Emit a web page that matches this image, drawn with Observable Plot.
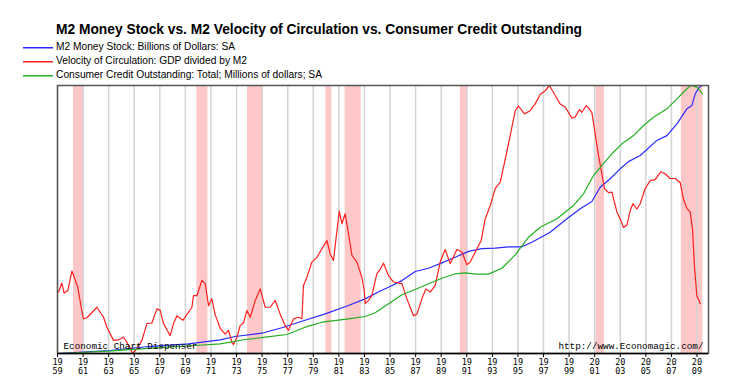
<!DOCTYPE html>
<html><head><meta charset="utf-8">
<script src="https://cdn.jsdelivr.net/npm/d3@7"></script>
<script src="https://cdn.jsdelivr.net/npm/@observablehq/plot@0.6"></script>
<style>
body{margin:0;background:#fff;}
#wrap{position:relative;width:739px;height:387px;overflow:hidden;font-family:"Liberation Sans",Arial,sans-serif;background:#fff;}
#head{position:relative;height:80px;}
.t{position:absolute;white-space:nowrap;transform-origin:0 50%;color:#000;}
#title{left:56px;top:21px;font-weight:bold;font-size:15px;line-height:16px;}
.leg{left:56px;font-size:10px;line-height:12px;}
#sw{position:absolute;left:0;top:0;}
#chart svg{display:block;}
</style></head><body>
<div id="wrap"><div id="head"></div><div id="chart"></div></div>
<script>
const titleText = "M2 Money Stock vs. M2 Velocity of Circulation vs. Consumer Credit Outstanding";
const seriesNames = ["M2 Money Stock: Billions of Dollars: SA", "Velocity of Circulation: GDP divided by M2", "Consumer Credit Outstanding: Total; Millions of dollars; SA"];
const seriesColors = ["#2a2aff", "#ff2020", "#22b022"];
const tickYears = [1959,1961,1963,1965,1967,1969,1971,1973,1975,1977,1979,1981,1983,1985,1987,1989,1991,1993,1995,1997,1999,2001,2003,2005,2007,2009];

// M2 money stock, billions of dollars
const m2Years = [1959.0,1962.34,1963.12,1966.11,1969.24,1971.72,1972.89,1974.98,1976.54,1978.11,1979.93,1981.75,1983.06,1984.23,1984.88,1985.93,1986.97,1988.01,1989.06,1990.09,1991.13,1992.18,1993.22,1994.26,1995.31,1996.09,1996.74,1997.52,1998.83,1999.87,2000.78,2001.43,2002.21,2003.00,2003.64,2004.56,2005.08,2005.86,2006.65,2007.43,2008.21,2008.60,2008.86,2009.20,2009.38];
const m2Values = [290,365,381,501,582,704,804,904,1068,1267,1490,1742,1944,2180,2293,2496,2772,2869,3031,3202,3380,3461,3477,3518,3518,3656,3793,3961,4366,4669,4889,5322,5578,5879,6097,6283,6462,6738,6883,7240,7694,7792,8149,8351,8400];

// Velocity of M2: GDP / M2
const velYears = [1959.08,1959.34,1959.52,1959.81,1960.13,1960.59,1960.85,1961.03,1961.30,1962.08,1962.60,1962.86,1963.38,1963.77,1964.16,1964.43,1964.68,1964.86,1965.21,1965.60,1965.99,1966.38,1966.77,1967.03,1967.29,1967.81,1968.07,1968.34,1968.80,1969.51,1969.63,1969.90,1970.29,1970.55,1970.81,1971.07,1971.33,1971.72,1972.11,1972.37,1972.64,1972.76,1973.03,1973.28,1973.54,1973.81,1974.07,1974.46,1974.85,1975.24,1975.63,1976.02,1976.41,1976.80,1977.06,1977.45,1977.84,1978.11,1978.23,1978.50,1978.89,1979.28,1979.67,1980.06,1980.32,1980.58,1980.85,1981.03,1981.24,1981.49,1981.75,1982.02,1982.41,1982.80,1982.98,1983.06,1983.32,1983.58,1983.97,1984.23,1984.49,1984.88,1985.27,1985.93,1986.32,1986.83,1987.10,1987.49,1987.80,1988.14,1988.53,1988.92,1989.31,1989.70,1990.23,1990.62,1991.01,1991.27,1991.66,1992.13,1992.44,1992.84,1993.23,1993.62,1994.01,1994.40,1994.79,1995.04,1995.51,1995.96,1996.35,1996.74,1997.13,1997.47,1997.91,1998.30,1998.69,1999.22,1999.48,1999.81,2000.00,2000.34,2000.78,2001.04,2001.30,2001.56,2001.77,2002.08,2002.35,2002.74,2003.00,2003.25,2003.52,2003.78,2003.99,2004.30,2004.56,2004.95,2005.34,2005.73,2006.18,2006.51,2006.90,2007.30,2007.69,2007.94,2008.21,2008.47,2008.65,2008.80,2008.99,2009.25];
const velValues = [1.797,1.814,1.795,1.800,1.837,1.806,1.768,1.746,1.748,1.768,1.749,1.730,1.705,1.706,1.711,1.701,1.691,1.680,1.689,1.705,1.737,1.738,1.765,1.762,1.737,1.714,1.737,1.752,1.743,1.768,1.790,1.790,1.819,1.813,1.771,1.784,1.754,1.728,1.717,1.724,1.701,1.697,1.711,1.733,1.738,1.762,1.749,1.781,1.803,1.768,1.768,1.781,1.755,1.733,1.724,1.746,1.749,1.746,1.809,1.825,1.854,1.863,1.879,1.895,1.870,1.857,1.914,1.951,1.927,1.946,1.908,1.867,1.854,1.825,1.800,1.775,1.781,1.790,1.832,1.840,1.852,1.828,1.816,1.813,1.784,1.752,1.755,1.784,1.803,1.797,1.809,1.854,1.878,1.851,1.878,1.873,1.849,1.854,1.873,1.895,1.936,1.962,1.994,2.006,2.050,2.095,2.142,2.151,2.136,2.142,2.155,2.173,2.180,2.190,2.171,2.155,2.149,2.128,2.130,2.144,2.139,2.152,2.139,2.098,2.057,2.022,1.994,1.986,1.987,1.949,1.936,1.920,1.924,1.952,1.965,1.955,1.965,1.994,2.009,2.011,2.026,2.022,2.013,2.013,2.005,1.974,1.956,1.949,1.917,1.847,1.790,1.775];

// Consumer credit outstanding, millions of dollars
const ccYears = [1959.0,1959.6,1962.99,1966.64,1969.77,1971.72,1973.68,1975.24,1976.94,1978.37,1979.67,1980.32,1981.75,1983.06,1983.84,1984.88,1985.93,1986.97,1988.01,1989.06,1990.09,1990.88,1991.66,1992.70,1993.75,1994.79,1995.83,1996.74,1998.05,1999.34,2000.13,2000.91,2001.56,2002.35,2003.13,2004.04,2004.82,2005.60,2006.65,2007.43,2008.21,2008.52,2008.99,2009.43];
const ccValues = [53000,55500,74700,106800,128500,144500,184900,206600,232100,301000,348100,357500,380200,401800,437000,521500,606400,656400,710000,763000,804500,813700,801000,801000,857000,983000,1149700,1243000,1323000,1448000,1559000,1731000,1826000,1936000,2030000,2108000,2203000,2281000,2360000,2454000,2549000,2580000,2564000,2502000];

// Recession bands
const recStart = [1960.25,1969.90,1973.86,1979.98,1981.49,1990.49,2001.10,2007.77];
const recEnd   = [1961.09,1970.76,1975.11,1980.45,1982.75,1991.09,2001.77,2009.46];

const leftNote = "Economic Chart Dispenser";
const rightNote = "http://www.Economagic.com/";

// ---- header (title + legend) ----
const head = document.getElementById("head");
function addText(cls, id, txt, top, targetW) {
  const d = document.createElement("div");
  d.className = "t " + cls; if (id) d.id = id;
  d.textContent = txt; d.style.top = top + "px";
  head.appendChild(d);
  const w = d.getBoundingClientRect().width;
  d.style.transform = `scaleX(${targetW / w})`;
  return d;
}
addText("", "title", titleText, 21, 526);
const legY = [47, 61, 75];
const legW = [179, 191, 266];
const sw = d3.select(head).append("svg").attr("id", "sw").attr("width", 60).attr("height", 80);
sw.selectAll("rect").data(seriesColors).join("rect")
  .attr("x", 23).attr("width", 30)
  .attr("y", (c, i) => legY[i]).attr("height", 1.5)
  .attr("fill", c => c);
seriesNames.forEach((name, i) => addText("leg", null, name, legY[i] - 6.5, legW[i]));

// ---- data table ----
const table = [
  ...m2Years.map((x, i) => ({series: seriesNames[0], year: x, value: m2Values[i]})),
  ...velYears.map((x, i) => ({series: seriesNames[1], year: x, value: velValues[i]})),
  ...ccYears.map((x, i) => ({series: seriesNames[2], year: x, value: ccValues[i]}))
];
const recessions = recStart.map((s, i) => ({start: s, end: recEnd[i]}));

const chart = Plot.plot({
  width: 739, height: 307,
  marginLeft: 57, marginRight: 31, marginTop: 5, marginBottom: 34,
  style: {fontFamily: "'DejaVu Sans Mono', 'Liberation Mono', monospace", fontSize: "8.5px", color: "#000", background: "#fff"},
  x: {domain: [1959, 2009.9], label: null},
  y: {domain: [0, 1], axis: null},
  color: {domain: seriesNames, range: seriesColors},
  marks: [
    Plot.rect(recessions, {x1: "start", x2: "end", fill: "#ffc8c8"}),
    Plot.gridX(tickYears, {stroke: "#d4d4d4", strokeOpacity: 1, strokeWidth: 1.5}),
    Plot.lineY(table, Plot.normalizeY("extent", {x: "year", y: "value", z: "series", stroke: "series", strokeWidth: 1.2})),
    Plot.text([leftNote], {frameAnchor: "bottom-left", dx: 6, dy: -5, fontSize: 9.3, textAnchor: "start", fill: "#000", fontFamily: "'Liberation Mono', monospace"}),
    Plot.text([rightNote], {frameAnchor: "bottom-right", dx: -5, dy: -5, fontSize: 9.3, textAnchor: "end", fill: "#000", fontFamily: "'Liberation Mono', monospace"}),
    Plot.frame({stroke: "#555", strokeWidth: 1.5}),
    Plot.ruleY([0], {stroke: "#000", strokeWidth: 1.5}),
    Plot.axisX(tickYears, {tickSize: 4, tickPadding: 1.5, lineHeight: 1.05, tickFormat: d => String(d).slice(0, 2) + "\n" + String(d).slice(2), fill: "#000", stroke: "#000"})
  ]
});
document.getElementById("chart").appendChild(chart);
</script>
</body></html>
